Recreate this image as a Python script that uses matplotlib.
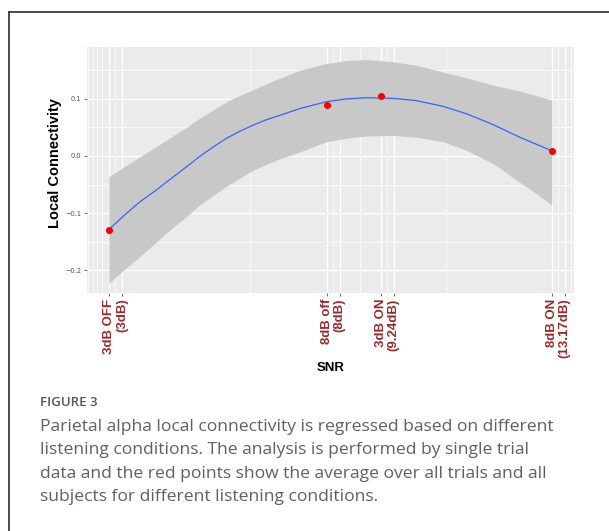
import matplotlib
matplotlib.use('Agg')
import matplotlib.pyplot as plt
from matplotlib.lines import Line2D

# SNR conditions (dB) and mean local connectivity (red points)
cond_snr = [3.0, 8.0, 9.24, 13.17]
cond_mean = [-0.129, 0.090, 0.105, 0.009]

# fitted curve with its confidence band
fit_snr = [3.0, 3.35, 3.70, 4.10, 4.47, 4.80, 5.08, 5.40, 5.70, 6.00, 6.31, 6.60,
           6.92, 7.38, 7.99, 8.45, 8.91, 9.52, 10.06, 10.67, 11.21, 11.82, 12.43,
           12.80, 13.17]
fit_val = [-0.129, -0.104, -0.081, -0.059, -0.037, -0.018, -0.001, 0.016, 0.031,
           0.043, 0.054, 0.063, 0.071, 0.083, 0.095, 0.100, 0.102, 0.101, 0.097,
           0.087, 0.074, 0.055, 0.033, 0.021, 0.009]
fit_upper = [-0.036, -0.019, -0.002, 0.017, 0.035, 0.051, 0.066, 0.081, 0.095,
             0.106, 0.116, 0.126, 0.136, 0.150, 0.162, 0.167, 0.169, 0.165, 0.159,
             0.147, 0.137, 0.124, 0.114, 0.106, 0.098]
fit_lower = [-0.223, -0.199, -0.177, -0.150, -0.125, -0.105, -0.086, -0.069, -0.053,
             -0.039, -0.025, -0.015, -0.005, 0.007, 0.025, 0.031, 0.035, 0.036, 0.033,
             0.025, 0.010, -0.013, -0.046, -0.065, -0.086]

# x breaks: each condition has two label lines, placed at two breaks
x_breaks = [3.0, 3.3, 8.0, 8.3, 9.24, 9.54, 13.17, 13.47]
x_labels = ['3dB OFF', '(3dB)', '8dB off', '(8dB)', '3dB ON', '(9.24dB)', '8dB ON', '(13.17dB)']
x_minor = [2.52, 2.63, 2.73, 2.85, 3.15, 6.25, 8.15, 8.77, 9.39, 10.73, 13.32, 13.62]
y_breaks = [-0.2, -0.1, 0.0, 0.1]
y_labels = ['-0.2', '-0.1', '0.0', '0.1']
y_minor = [-0.15, -0.05, 0.05, 0.15]

caption_title = 'FIGURE 3'
caption_lines = [
    'Parietal alpha local connectivity is regressed based on different',
    'listening conditions. The analysis is performed by single trial',
    'data and the red points show the average over all trials and all',
    'subjects for different listening conditions.',
]

fig = plt.figure(figsize=(6.09, 5.31), dpi=100)

# outer frame of the figure panel (cropped at the right and bottom)
fig.add_artist(Line2D([9 / 609, 9 / 609], [0, 1 - 12 / 531], transform=fig.transFigure,
                      color='#3c3c3c', lw=1.3))
fig.add_artist(Line2D([9 / 609, 1], [1 - 12 / 531, 1 - 12 / 531], transform=fig.transFigure,
                      color='#3c3c3c', lw=1.3))

ax = fig.add_axes([86.7 / 609, 1 - 293 / 531, (574 - 86.7) / 609, (293 - 47.5) / 531])
ax.set_facecolor('#EBEBEB')
for s in ax.spines.values():
    s.set_visible(False)

for v in x_minor:
    ax.axvline(v, color='white', lw=0.5, zorder=0)
for v in y_minor:
    ax.axhline(v, color='white', lw=0.5, zorder=0)
for v in x_breaks:
    ax.axvline(v, color='white', lw=0.9, zorder=0)
for v in y_breaks:
    ax.axhline(v, color='white', lw=0.9, zorder=0)

ax.fill_between(fit_snr, fit_lower, fit_upper, color='#C8C8C8', lw=0, zorder=1)
ax.plot(fit_snr, fit_val, color='#3366FF', lw=0.9, zorder=2)
ax.scatter(cond_snr, cond_mean, s=26, color='#FF0000', zorder=3, linewidths=0)

ax.set_xlim(2.49, 13.68)
ax.set_ylim(-0.240, 0.190)

ax.set_xticks(x_breaks)
ax.set_xticklabels(x_labels, rotation=90, fontsize=9.5, fontweight='bold',
                   color='#9A2B2B', family='Liberation Sans')
ax.set_yticks(y_breaks)
ax.set_yticklabels([s.replace('-', '\u2212') for s in y_labels], fontsize=4.8,
                   color='#4D4D4D', family='DejaVu Sans')
ax.tick_params(axis='both', length=2.5, width=0.5, color='#333333', pad=1.5)

ax.set_xlabel('SNR', fontsize=9.5, weight='bold', family='Liberation Sans', labelpad=3)
ax.set_ylabel('Local Connectivity', fontsize=10.5, weight='bold', family='Liberation Sans')
ax.yaxis.set_label_coords(-0.051, 0.53)

fig.text(40 / 609, 1 - 403 / 531, caption_title, fontsize=9.5, color='#555555',
         family='Open Sans', fontweight='semibold', va='center')
for i, line in enumerate(caption_lines):
    fig.text(40 / 609, 1 - (427 + 23.3 * i) / 531, line, fontsize=12.6, color='#606060',
             family='Open Sans', va='center')

fig.savefig('out.png', dpi=100)
